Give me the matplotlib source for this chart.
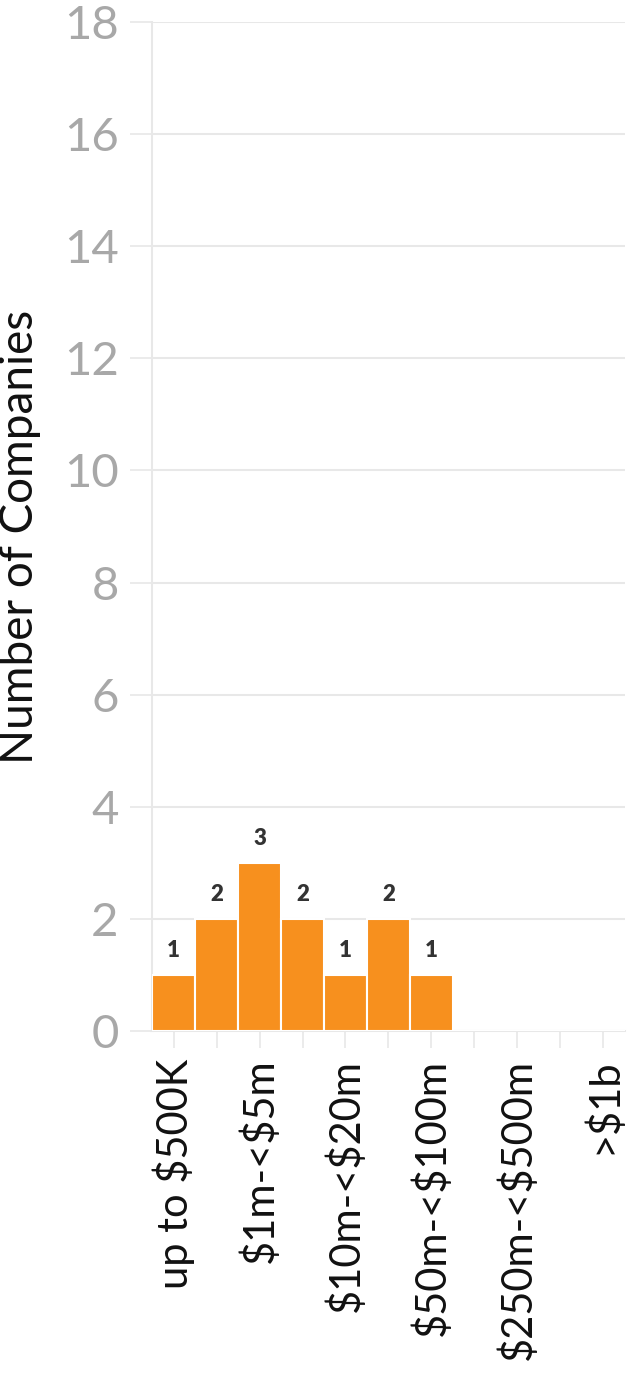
import matplotlib
matplotlib.use('Agg')
import matplotlib.pyplot as plt
import numpy as np

CATEGORIES = ['up to \\$500K', '\\$500K-<\\$1m', '\\$1m-<\\$5m', '\\$5m-<\\$10m', '\\$10m-<\\$20m',
              '\\$20m-<\\$50m', '\\$50m-<\\$100m', '\\$100m-<\\$250m', '\\$250m-<\\$500m',
              '\\$500m-<\\$1b', '>\\$1b']
COUNTS = [1, 2, 3, 2, 1, 2, 1, 0, 0, 0, 0]
Y_TICKS = [0, 2, 4, 6, 8, 10, 12, 14, 16, 18]
BAR_COLOR = '#F7901E'
GRID_COLOR = '#e8e8e8'

plt.rcParams['font.family'] = ['Lato', 'DejaVu Sans']

fig = plt.figure(figsize=(6.3, 13.82), dpi=100)
ax = fig.add_axes([0.2413, 0.254, 0.7507, 0.730])

x = np.arange(len(CATEGORIES))
bars = ax.bar(x, COUNTS, width=1.0, color=BAR_COLOR, edgecolor='white', linewidth=1.5, zorder=3)

#value labels on non-empty bars
for xi, c in zip(x, COUNTS):
    if c > 0:
        ax.text(xi, c + 0.24, str(c), ha='center', va='bottom', fontsize=16,
                fontweight='heavy', color='#333333', zorder=4)

ax.set_xlim(-0.5, len(CATEGORIES) - 0.5)
ax.set_ylim(0, 18)
ax.set_yticks(Y_TICKS)
ax.set_xticks(x)
ax.set_xticklabels([c if i % 2 == 0 else '' for i, c in enumerate(CATEGORIES)],
                   rotation=90, fontsize=30, color='#111111')
ax.tick_params(axis='x', length=12, width=1.2, color=GRID_COLOR, pad=8)
ax.tick_params(axis='y', length=16, width=1.2, color=GRID_COLOR, labelsize=34,
               labelcolor='#a8a8a8', pad=8)

ax.yaxis.grid(True, color=GRID_COLOR, linewidth=1.5, zorder=0)
ax.xaxis.grid(False)
for s in ['top', 'right']:
    ax.spines[s].set_visible(False)
ax.spines['left'].set_color(GRID_COLOR)
ax.spines['left'].set_linewidth(1.5)
ax.spines['bottom'].set_color(GRID_COLOR)
ax.spines['bottom'].set_linewidth(1.5)

ax.set_ylabel('Number of Companies', fontsize=33, color='#111111')
ax.yaxis.set_label_coords(-0.235, 0.49)

fig.savefig('out.png', dpi=100)
